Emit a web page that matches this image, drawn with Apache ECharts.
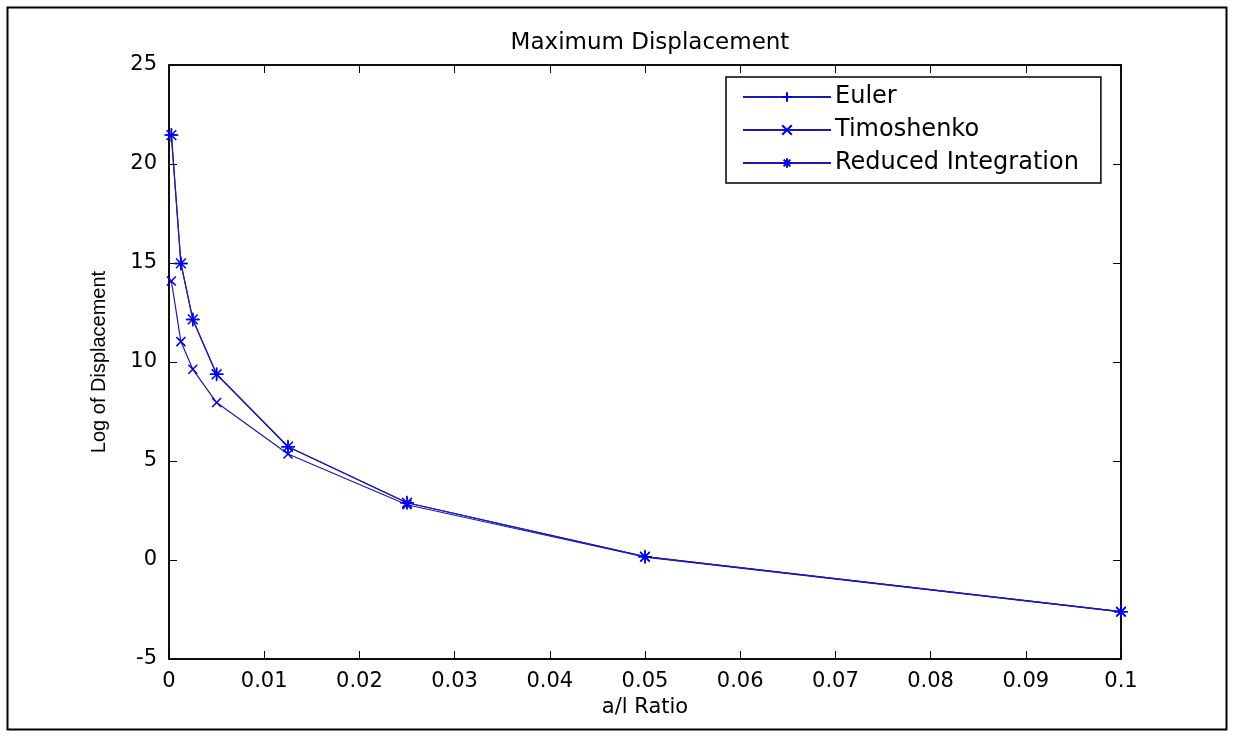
<!DOCTYPE html>
<html><head><meta charset="utf-8">
<script src="https://cdn.jsdelivr.net/npm/echarts@6/dist/echarts.min.js"></script>
<style>html,body{margin:0;padding:0;background:#fff}#c{width:1234px;height:737px}</style>
</head><body><div id="c"></div>
<script>
const ratios = [0.00025, 0.00125, 0.0025, 0.005, 0.0125, 0.025, 0.05, 0.1];
const euler = [21.46, 14.98, 12.15, 9.38, 5.72, 2.89, 0.17, -2.61];
const timoshenko = [14.09, 11.03, 9.63, 7.95, 5.35, 2.79, 0.15, -2.62];
const reduced = [21.46, 14.98, 12.15, 9.38, 5.72, 2.89, 0.17, -2.61];
const seriesNames = ['Euler', 'Timoshenko', 'Reduced Integration'];

const FONT = 'DejaVu Sans';
const LINE = '#1a1ab8';
const MARK = '#0000f0';
const plus = 'path://M0,-10L0,10M-10,0L10,0';
const cross = 'path://M-7,-7L7,7M-7,7L7,-7';
const star = 'path://M0,-10L0,10M-10,0L10,0M-7,-7L7,7M-7,7L7,-7';

function pairs(ys){ return ratios.map((x,i)=>[x, ys[i]]); }
function mk(name, ys, sym, size){
  return {name, type:'line', data:pairs(ys), symbol:sym, symbolSize:size, showSymbol:true,
    lineStyle:{color:LINE, width:1.2}, itemStyle:{color:MARK, borderColor:MARK, borderWidth:1.5},
    emphasis:{disabled:true}, animation:false};
}
const chart = echarts.init(document.getElementById('c'));
const tickLbl = {fontFamily:FONT, fontSize:21, color:'#000'};
chart.setOption({
  backgroundColor:'#fff',
  animation:false,
  title:{text:'Maximum Displacement', left:645, top:27, textAlign:'center',
    textStyle:{fontFamily:FONT, fontSize:23, fontWeight:'normal', color:'#000'}},
  grid:{left:169, top:65, width:952, height:594, show:true, borderColor:'#000', borderWidth:1.5},
  legend:{orient:'vertical', left:726, top:77, itemWidth:88, itemHeight:12, itemGap:9,
    padding:[8,22,8,16], borderColor:'#000', borderWidth:1.5, backgroundColor:'#fff',
    textStyle:{fontFamily:FONT, fontSize:24, color:'#000', padding:[0,0,0,-1]},
    data:seriesNames},
  xAxis:[{type:'value', min:0, max:0.1, interval:0.01, position:'bottom',
    name:'a/l Ratio', nameLocation:'middle', nameGap:22,
    nameTextStyle:{fontFamily:FONT, fontSize:21, color:'#000'},
    axisLine:{onZero:false, lineStyle:{color:'#000', width:1.5}},
    axisTick:{inside:true, length:8, lineStyle:{color:'#000'}},
    axisLabel:{...tickLbl, margin:12, formatter:v=>String(+v.toFixed(2))},
    splitLine:{show:false}},
   {type:'value', min:0, max:0.1, interval:0.01, position:'top',
    axisLine:{onZero:false, lineStyle:{color:'#000', width:1.5}},
    axisTick:{inside:true, length:8, lineStyle:{color:'#000'}},
    axisLabel:{show:false}, splitLine:{show:false}}],
  yAxis:[{type:'value', min:-5, max:25, interval:5, position:'left',
    name:'Log of Displacement', nameLocation:'middle', nameGap:60,
    nameTextStyle:{fontFamily:'Liberation Sans', fontSize:20, color:'#000'},
    axisLine:{onZero:false, lineStyle:{color:'#000', width:1.5}},
    axisTick:{inside:true, length:8, lineStyle:{color:'#000'}},
    axisLabel:{...tickLbl, margin:12},
    splitLine:{show:false}},
   {type:'value', min:-5, max:25, interval:5, position:'right',
    axisLine:{onZero:false, lineStyle:{color:'#000', width:1.5}},
    axisTick:{inside:true, length:8, lineStyle:{color:'#000'}},
    axisLabel:{show:false}, splitLine:{show:false}}],
  graphic:[{type:'rect', shape:{x:7.5, y:7.5, width:1219, height:722}, silent:true,
    style:{fill:null, stroke:'#000', lineWidth:2}}],
  series:[mk(seriesNames[0], euler, plus, 12), mk(seriesNames[1], timoshenko, cross, 9), mk(seriesNames[2], reduced, star, 14)]
});
</script></body></html>
